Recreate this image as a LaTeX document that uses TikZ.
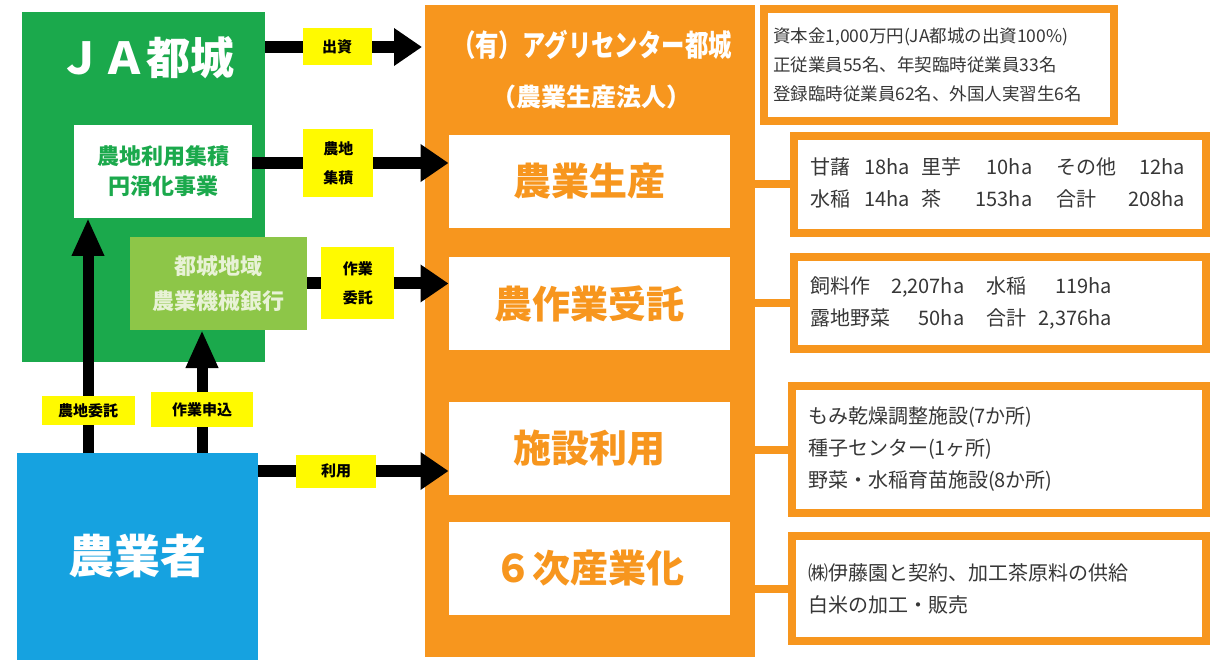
\documentclass[tikz,border=0pt]{standalone}
\usepackage{fontspec}
\usepackage{graphicx}
\setmainfont{Noto Sans CJK JP}
\usetikzlibrary{arrows.meta,positioning}

\definecolor{jagreen}{RGB}{27,169,76}
\definecolor{kikaigreen}{RGB}{141,198,72}
\definecolor{kikaitext}{RGB}{232,242,214}
\definecolor{farmblue}{RGB}{22,162,224}
\definecolor{agriorange}{RGB}{247,150,30}
\definecolor{labelyellow}{RGB}{255,250,0}
\definecolor{infotext}{RGB}{55,55,55}

\newcommand{\fsize}[2]{\fontsize{#1}{#2}\selectfont}

\tikzset{
  flat/.style={inner sep=0pt, outer sep=0pt},
  actbox/.style={flat, fill=white, minimum width=281pt, minimum height=93pt,
    text=agriorange, font=\bfseries\fsize{38}{44}},
  infobox/.style={draw=agriorange, line width=8pt, fill=white, outer sep=0pt,
    inner ysep=0pt, anchor=north west, align=left, text=infotext},
  tagbox/.style={flat, fill=labelyellow, align=center, font=\bfseries\fsize{15}{29}},
  flowarrow/.style={line width=12pt, -{Triangle[length=28pt,width=36pt]}},
  risearrow/.style={line width=11pt, -{Triangle[length=38pt,width=30pt]}},
  infolink/.style={draw=agriorange, line width=8pt}
}

\begin{document}
\begin{tikzpicture}[x=1pt, y=-1pt]
  \useasboundingbox (0,0) rectangle (1210,660);

  % JA side
  \node (ja) [flat, fill=jagreen, minimum width=243pt, minimum height=350pt, anchor=north west] at (22,12) {};
  \node (jatitle) [text=white, font=\bfseries\fsize{44}{50}] at (146,58) {ＪＡ都城};
  \node (shuseki) [flat, fill=white, minimum width=178pt, minimum height=93pt, anchor=north west,
    align=center, text=jagreen, font=\bfseries\fsize{22}{30}] at (74,125) {農地利用集積\\円滑化事業};
  \node (kikai) [flat, fill=kikaigreen, minimum width=177pt, minimum height=93pt, anchor=north west,
    align=center, text=kikaitext, font=\bfseries\fsize{22}{35}] at (130,237) {都城地域\\農業機械銀行};

  % farmers
  \node (nouka) [flat, fill=farmblue, minimum width=241pt, minimum height=207pt, anchor=north west,
    text=white, font=\bfseries\fsize{46}{50}] at (17,453) {農業者};

  % agri center
  \node (agri) [flat, fill=agriorange, minimum width=330pt, minimum height=652pt, anchor=north west] at (425,5) {};
  \node (agtitle) [text=white, font=\bfseries\fsize{30}{34}] at (592,45) {\scalebox{0.78}[1]{（有）アグリセンター都城}};
  \node (agsub) [text=white, font=\bfseries\fsize{25}{30}] at (591,97) {（農業生産法人）};

  \node (seisan) [actbox, anchor=north west] at (448.5,135) {農業生産};
  \node (jutaku) [actbox, below=29pt of seisan] {農作業受託};
  \node (shisetsu) [actbox, below=52pt of jutaku] {施設利用};
  \node (rokuji) [actbox, below=27pt of shisetsu] {６次産業化};

  % details
  \node (info1) [infobox, minimum width=350pt, minimum height=112pt, inner xsep=9pt, text width=332pt,
    font=\fsize{17.5}{29}] at (764,9)
    {資本金1,000万円(JA都城の出資100\%)\\正従業員55名、年契臨時従業員33名\\登録臨時従業員62名、外国人実習生6名};
  \node (info2) [infobox, minimum width=412pt, minimum height=97pt, inner xsep=16pt, text width=380pt,
    font=\fsize{20}{32}] at (794,136)
    {\begin{tabular}{@{}l@{\hspace{14pt}}r@{\hspace{12pt}}l@{\hspace{14pt}}r@{\hspace{24pt}}l@{\hspace{12pt}}r@{}}
      甘藷 & 18ha & 里芋 & 10ha & その他 & 12ha\\
      水稲 & 14ha & 茶 & 153ha & 合計 & 208ha
    \end{tabular}};
  \node (info3) [infobox, minimum width=412pt, minimum height=92pt, inner xsep=16pt, text width=380pt,
    font=\fsize{20}{32}] at (794,257)
    {\begin{tabular}{@{}l@{\hspace{1pt}}r@{\hspace{22pt}}l@{\hspace{12pt}}r@{}}
      飼料作 & 2,207ha & 水稲 & 119ha\\
      露地野菜 & 50ha & 合計 & 2,376ha
    \end{tabular}};
  \node (info4) [infobox, minimum width=414pt, minimum height=127pt, inner xsep=16pt, text width=382pt,
    font=\fsize{20}{32}] at (792,386)
    {もみ乾燥調整施設(7か所)\\種子センター(1ヶ所)\\野菜・水稲育苗施設(8か所)};
  \node (info5) [infobox, minimum width=414pt, minimum height=105pt, inner xsep=16pt, text width=382pt,
    font=\fsize{20}{32}] at (792,536)
    {㈱伊藤園と契約、加工茶原料の供給\\白米の加工・販売};

  \draw[infolink] (agri.east |- info2.west) -- (info2.west);
  \draw[infolink] (agri.east |- info3.west) -- (info3.west);
  \draw[infolink] (agri.east |- info4.west) -- (info4.west);
  \draw[infolink] (agri.east |- info5.west) -- (info5.west);

  % flows
  \draw[flowarrow, shorten >=3pt] (ja.east |- 0,47) -- node[tagbox, pos=0.45, minimum width=69pt, minimum height=37pt] (tshusshi) {出資} (agri.west |- 0,47);
  \draw[flowarrow] (shuseki.east |- 0,163) -- node[tagbox, pos=0.44, minimum width=70pt, minimum height=68pt] (tshuseki) {農地\\集積} (seisan.west |- 0,163);
  \draw[flowarrow] (kikai.east) -- node[tagbox, pos=0.36, minimum width=73pt, minimum height=72pt] (titaku) {作業\\委託} (kikai.east -| jutaku.west);
  \draw[flowarrow] (nouka.east |- 0,471) -- node[tagbox, pos=0.41, minimum width=80pt, minimum height=33pt] (triyou) {利用} (shisetsu.west |- 0,471);

  \draw[risearrow] (nouka.north -| 88,0) -- node[tagbox, pos=0.18, minimum width=93pt, minimum height=29pt] (tinin) {農地委託} (shuseki.south -| 88,0);
  \draw[risearrow] (nouka.north -| 202,0) -- node[tagbox, pos=0.35, minimum width=102pt, minimum height=35pt] (tmoushi) {作業申込} (kikai.south -| 202,0);
\end{tikzpicture}
\end{document}
